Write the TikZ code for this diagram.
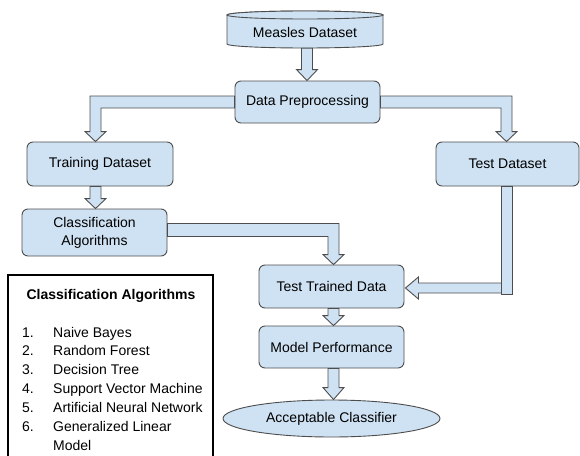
\documentclass[tikz,border=0pt]{standalone}
\usepackage{fontspec}
\setmainfont{Liberation Sans}
\usetikzlibrary{calc,shapes.geometric}
\definecolor{boxfill}{HTML}{CFE2F3}
\definecolor{boxline}{HTML}{4D4D4D}
\tikzset{
  box/.style={draw=boxline, fill=boxfill, line width=0.9pt, rounded corners=6pt,
    inner sep=0pt, font=\fontsize{14}{18}\selectfont, align=center},
  blk/.style={draw=boxline, fill=boxfill, line width=0.9pt, line join=miter},
  legtext/.style={inner sep=0pt, anchor=base west, font=\fontsize{14}{17}\selectfont},
}
\newcommand\downblk[4]{%
  \draw[blk] ($(#1,0 |- #2)+(-5.5,0)$) -- ($(#1,0 |- #3)+(-5.5,-#4)$)
    -- ($(#1,0 |- #3)+(-10.5,-#4)$) -- (#1,0 |- #3)
    -- ($(#1,0 |- #3)+(10.5,-#4)$) -- ($(#1,0 |- #3)+(5.5,-#4)$)
    -- ($(#1,0 |- #2)+(5.5,0)$) -- cycle;}
\begin{document}
\begin{tikzpicture}[x=1pt, y=-1pt]
\useasboundingbox (0,0) rectangle (580,455);
\fill[white] (0,0) rectangle (580,455);

% cylinder
\draw[blk] (227,15) -- (227,44) arc[start angle=180, end angle=360, x radius=78pt, y radius=4pt]
  -- (383,15) arc[start angle=0, end angle=180, x radius=78pt, y radius=4pt] -- cycle;
\draw[blk] (305,15) ellipse [x radius=78pt, y radius=4pt];
\node[inner sep=0pt, minimum width=156, minimum height=32, font=\fontsize{14}{18}\selectfont] (meas) at (305,32) {Measles Dataset};

% boxes
\node[box, minimum width=145, minimum height=42] (prep) at (307.5,102) {Data Preprocessing};
\node[box, minimum width=146, minimum height=44] (train) at (100,164) {Training Dataset};
\node[box, minimum width=143, minimum height=44] (test) at (507.5,164) {Test Dataset};
\node[box, minimum width=145, minimum height=47] (classalg) at (94.5,232.5) {Classification\\Algorithms};
\node[box, minimum width=145, minimum height=43] (ttd) at (331.5,286.5) {Test Trained Data};
\node[box, minimum width=145, minimum height=42] (mp) at (331.5,347) {Model Performance};
\node[ellipse, draw=boxline, fill=boxfill, line width=0.9pt, inner sep=0pt,
  minimum width=217, minimum height=37, font=\fontsize{14}{18}\selectfont] (acc) at (331.5,418.5) {Acceptable Classifier};

% arrows
\downblk{307}{meas.south}{prep.north}{11}
\coordinate (tl) at (95.5,0 |- train.north);
\draw[blk] ($(prep.west)+(0,-6)$) -| ($(tl)+(-5.5,-10)$) -- ++(-5,0) -- (tl)
  -- ++(10.5,-10) -- ++(-5,0) |- ($(prep.west)+(0,6)$) -- cycle;
\coordinate (tr) at (506.5,0 |- test.north);
\draw[blk] ($(prep.east)+(0,-6)$) -| ($(tr)+(5.5,-10)$) -- ++(5,0) -- (tr)
  -- ++(-10.5,-10) -- ++(5,0) |- ($(prep.east)+(0,6)$) -- cycle;
\downblk{95.5}{train.south}{classalg.north}{10}
\coordinate (tc) at (333.5,0 |- ttd.north);
\draw[blk] ($(classalg.east)+(0,-9)$) -| ($(tc)+(5.5,-10)$) -- ++(5,0) -- (tc)
  -- ++(-10.5,-10) -- ++(5,0) |- ($(classalg.east)+(0,4)$) -- cycle;
\coordinate (tx) at (506.5,0 |- test.south);
\draw[blk] ($(tx)+(-5.5,0)$) rectangle ($(tx)+(5.5,108)$);
\coordinate (te) at ($(ttd.east)+(1,1.5)$);
\draw[blk] (te) -- ++(13,-11) -- ++(0,6) -- ++(83,0) -- ++(0,10) -- ++(-83,0) -- ++(0,6) -- cycle;
\downblk{333.5}{ttd.south}{mp.north}{10}
\downblk{333.5}{mp.south}{acc.north}{12}

% legend
\draw[black, line width=1.3pt] (8,456) -- (8,275) -- (213,275) -- (213,456);
\node[inner sep=0pt, anchor=base, font=\fontsize{14}{17}\selectfont\bfseries] (legtitle) at (111,299) {Classification Algorithms};
\node[legtext] (n1) at (22,337) {1.};
\node[legtext] (i1) at (53,337) {Naive Bayes};
\node[legtext] (n2) at (22,355.9) {2.};
\node[legtext] (i2) at (53,355.9) {Random Forest};
\node[legtext] (n3) at (22,374.8) {3.};
\node[legtext] (i3) at (53,374.8) {Decision Tree};
\node[legtext] (n4) at (22,393.7) {4.};
\node[legtext] (i4) at (53,393.7) {Support Vector Machine};
\node[legtext] (n5) at (22,412.6) {5.};
\node[legtext] (i5) at (53,412.6) {Artificial Neural Network};
\node[legtext] (n6) at (22,431.5) {6.};
\node[legtext] (i6) at (53,431.5) {Generalized Linear};
\node[legtext] (i6b) at (53,450.4) {Model};
\end{tikzpicture}
\end{document}
